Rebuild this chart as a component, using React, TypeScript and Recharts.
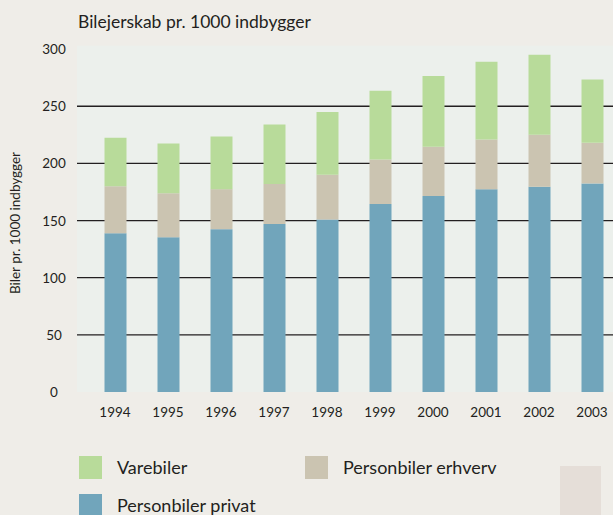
import React from 'react';
import { BarChart, Bar, XAxis, YAxis, CartesianGrid } from 'recharts';

const years = ['1994', '1995', '1996', '1997', '1998', '1999', '2000', '2001', '2002', '2003'];
const privat = [139, 135.5, 142.5, 147, 151, 164.5, 171.5, 177.5, 179.5, 182.5];
const erhverv = [41, 38.5, 35, 35, 39, 39, 43, 43.5, 45.5, 35.5];
const vare = [42.5, 43.5, 46, 52, 55, 60, 62, 68, 70, 55.5];
const yTicks = [0, 50, 100, 150, 200, 250, 300];
const gridValues = [50, 100, 150, 200, 250];

const title = 'Bilejerskab pr. 1000 indbygger';
const yLabel = 'Biler pr. 1000 indbygger';

const series = [
  { key: 'privat', name: 'Personbiler privat', color: '#71A5BB' },
  { key: 'erhverv', name: 'Personbiler erhverv', color: '#CBC4B1' },
  { key: 'vare', name: 'Varebiler', color: '#B8DB9A' },
];

const legendItems = [
  { name: 'Varebiler', color: '#B8DB9A', left: 79, top: 456 },
  { name: 'Personbiler erhverv', color: '#CBC4B1', left: 305, top: 456 },
  { name: 'Personbiler privat', color: '#71A5BB', left: 79, top: 494 },
];

const data = years.map((y, i) => ({ year: y, privat: privat[i], erhverv: erhverv[i], vare: vare[i] }));

const FONT = 'Lato, "Open Sans", sans-serif';
const TEXT = '#231F20';

const YTick = (props: any) => {
  const { y, payload } = props;
  return (
    <text x={54} y={y} textAnchor="middle" dominantBaseline="central" fontSize={13.5} fill={TEXT} fontFamily={FONT}>
      {payload.value}
    </text>
  );
};

const XTick = (props: any) => {
  const { x, payload } = props;
  return (
    <text x={x} y={412} textAnchor="middle" dominantBaseline="central" fontSize={13.5} fill={TEXT} fontFamily={FONT}>
      {payload.value}
    </text>
  );
};

export default function App() {
  return (
    <div style={{ position: 'fixed', left: 0, top: 0, width: 613, height: 515, overflow: 'hidden', background: '#EFEDE8', fontFamily: FONT }}>
      <div style={{ position: 'absolute', left: 78, top: 10, fontSize: 17.5, color: TEXT, lineHeight: '24px', whiteSpace: 'nowrap' }}>{title}</div>
      <div style={{ position: 'absolute', left: 15, top: 223, width: 0, height: 0 }}>
        <div style={{ position: 'absolute', transform: 'translate(-50%, -50%) rotate(-90deg)', fontSize: 13.5, color: TEXT, whiteSpace: 'nowrap', lineHeight: '16px' }}>{yLabel}</div>
      </div>
      <div style={{ position: 'absolute', left: 0, top: 0 }}>
        <BarChart width={618.5} height={515} data={data} margin={{ top: 45.7, right: 0, left: 0, bottom: 93 }}>
          <CartesianGrid horizontal vertical={false} horizontalValues={gridValues} fill="#ECF0EC" stroke={TEXT} strokeWidth={1.3} strokeOpacity={1} />
          <XAxis dataKey="year" axisLine={false} tickLine={false} height={30} padding={{ left: 11.5, right: 0 }} tick={<XTick />} interval={0} />
          <YAxis domain={[0, 303]} ticks={yTicks} axisLine={false} tickLine={false} width={77} tick={<YTick />} interval={0} />
          {series.map((s) => (
            <Bar key={s.key} dataKey={s.key} name={s.name} stackId="a" fill={s.color} barSize={22} isAnimationActive={false} />
          ))}
        </BarChart>
      </div>
      {legendItems.map((l) => (
        <div key={l.name} style={{ position: 'absolute', left: l.left, top: l.top }}>
          <div style={{ position: 'absolute', left: 0, top: 0, width: 23, height: 23, background: l.color }} />
          <div style={{ position: 'absolute', left: 38, top: 0, height: 23, lineHeight: '23px', fontSize: 18, color: TEXT, whiteSpace: 'nowrap' }}>{l.name}</div>
        </div>
      ))}
      <div style={{ position: 'absolute', left: 560, top: 466, width: 41, height: 60, background: '#E5DED8' }} />
    </div>
  );
}
